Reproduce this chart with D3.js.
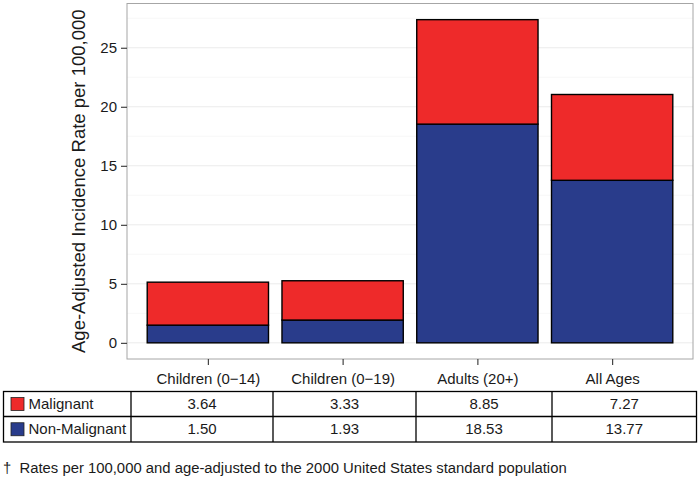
<!DOCTYPE html>
<html><head><meta charset="utf-8">
<script src="https://cdn.jsdelivr.net/npm/d3@7"></script>
<style>body{margin:0;background:#fff;} text{font-family:"Liberation Sans",Arial,sans-serif;}</style>
</head><body>
<svg id="chart" width="698" height="480"></svg>
<script>
const categories = ["Children (0\u221214)", "Children (0\u221219)", "Adults (20+)", "All Ages"];
const malignant = [3.64, 3.33, 8.85, 7.27];
const nonMalignant = [1.50, 1.93, 18.53, 13.77];
const yTicks = [0, 5, 10, 15, 20, 25];
const seriesNames = ["Malignant", "Non-Malignant"];
const seriesColors = ["#EE2A2A", "#293C8B"];
const footnote = "\u2020  Rates per 100,000 and age-adjusted to the 2000 United States standard population";

const FS = "15px";
const svg = d3.select("#chart");
const panel = {left: 127, right: 693, top: 3.5, bottom: 359};

const totals = categories.map((c, i) => malignant[i] + nonMalignant[i]);
const maxT = d3.max(totals);
const y = d3.scaleLinear().domain([-maxT * 0.05, maxT * 1.05]).range([panel.bottom, panel.top]);
// ggplot-like discrete scale: expansion 0.6 step each side, bars 0.9 of step
const x = d3.scalePoint().domain(categories)
  .range([panel.left, panel.right]).padding(0.6);
const step = x.step();
const cx = d => x(d);
const bw = step * 0.9;

svg.append("rect").attr("x", panel.left).attr("y", panel.top)
  .attr("width", panel.right - panel.left).attr("height", panel.bottom - panel.top)
  .attr("fill", "#fff");

// minor gridlines
const minor = d3.range(-2.5, 30, 5).filter(v => y(v) > panel.top && y(v) < panel.bottom);
svg.append("g").selectAll("line").data(minor).join("line")
  .attr("x1", panel.left).attr("x2", panel.right)
  .attr("y1", d => y(d)).attr("y2", d => y(d))
  .attr("stroke", "#F5F5F5").attr("stroke-width", 0.8);
// major gridlines
svg.append("g").selectAll("line").data(yTicks).join("line")
  .attr("x1", panel.left).attr("x2", panel.right)
  .attr("y1", d => y(d)).attr("y2", d => y(d))
  .attr("stroke", "#EBEBEB").attr("stroke-width", 1);

// bars
const g = svg.append("g");
categories.forEach((c, i) => {
  g.append("rect").attr("x", cx(c) - bw / 2).attr("width", bw)
    .attr("y", y(nonMalignant[i])).attr("height", y(0) - y(nonMalignant[i]))
    .attr("fill", seriesColors[1]).attr("stroke", "#000").attr("stroke-width", 1.4);
  g.append("rect").attr("x", cx(c) - bw / 2).attr("width", bw)
    .attr("y", y(totals[i])).attr("height", y(nonMalignant[i]) - y(totals[i]))
    .attr("fill", seriesColors[0]).attr("stroke", "#000").attr("stroke-width", 1.4);
});

// panel border
svg.append("rect").attr("x", panel.left).attr("y", panel.top)
  .attr("width", panel.right - panel.left).attr("height", panel.bottom - panel.top)
  .attr("fill", "none").attr("stroke", "#A6A6A6").attr("stroke-width", 1);

// y axis
const yAxis = svg.append("g").attr("transform", `translate(${panel.left},0)`)
  .call(d3.axisLeft(y).tickValues(yTicks).tickSize(6).tickPadding(4));
yAxis.select(".domain").remove();
yAxis.selectAll(".tick line").attr("stroke", "#333").attr("stroke-width", 1.1);
yAxis.selectAll(".tick text").attr("fill", "#1a1a1a").style("font-size", FS)
  .style("font-family", '"Liberation Sans",Arial,sans-serif');

// x axis
const xAxis = svg.append("g").attr("transform", `translate(0,${panel.bottom})`)
  .call(d3.axisBottom(x).tickSize(6).tickPadding(8));
xAxis.select(".domain").remove();
xAxis.selectAll(".tick line").attr("stroke", "#333").attr("stroke-width", 1.1);
xAxis.selectAll(".tick text").attr("fill", "#1a1a1a").style("font-size", FS)
  .style("font-family", '"Liberation Sans",Arial,sans-serif');

// y title
svg.append("text").attr("transform", `translate(84.5,${(panel.top + panel.bottom) / 2}) rotate(-90)`)
  .attr("text-anchor", "middle").attr("fill", "#1a1a1a").style("font-size", "18.5px")
  .text("Age-Adjusted Incidence Rate per 100,000");

// table
const colEdges = [3.5, 131, 273, 416, 552, 696.5];
const rowEdges = [391.5, 416.5, 442];
const tg = svg.append("g");
tg.append("rect").attr("x", colEdges[0]).attr("y", rowEdges[0])
  .attr("width", colEdges[5] - colEdges[0]).attr("height", rowEdges[2] - rowEdges[0])
  .attr("fill", "none").attr("stroke", "#000").attr("stroke-width", 1.3);
tg.append("line").attr("x1", colEdges[0]).attr("x2", colEdges[5]).attr("y1", rowEdges[1]).attr("y2", rowEdges[1])
  .attr("stroke", "#000").attr("stroke-width", 1.3);
colEdges.slice(1, 5).forEach(e => {
  tg.append("line").attr("x1", e).attr("x2", e).attr("y1", rowEdges[0]).attr("y2", rowEdges[2])
    .attr("stroke", "#000").attr("stroke-width", 1.3);
});
const rows = [malignant, nonMalignant];
rows.forEach((vals, r) => {
  const ymid = (rowEdges[r] + rowEdges[r + 1]) / 2;
  tg.append("rect").attr("x", 11).attr("y", ymid - 6.5).attr("width", 13).attr("height", 13)
    .attr("fill", seriesColors[r]).attr("stroke", "#222").attr("stroke-width", 0.8);
  tg.append("text").attr("x", 28.5).attr("y", ymid + 5.2).attr("fill", "#1a1a1a")
    .style("font-size", FS).text(seriesNames[r]);
  vals.forEach((v, i) => {
    tg.append("text").attr("x", (colEdges[i + 1] + colEdges[i + 2]) / 2).attr("y", ymid + 5.2)
      .attr("text-anchor", "middle").attr("fill", "#1a1a1a").style("font-size", FS)
      .text(d3.format(".2f")(v));
  });
});

// footnote
svg.append("text").attr("x", 3).attr("y", 473).attr("fill", "#1a1a1a")
  .style("font-size", "14.85px").style("white-space", "pre").text(footnote);
</script>
</body></html>
